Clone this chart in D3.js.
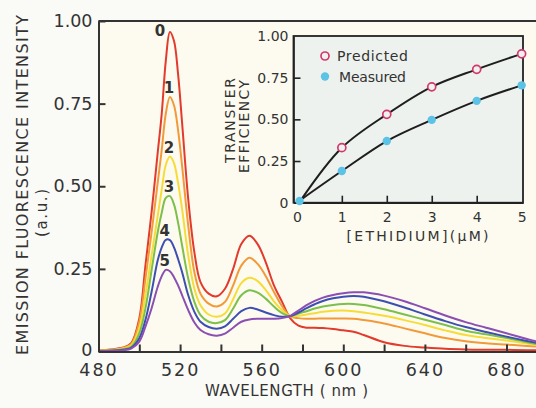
<!DOCTYPE html>
<html><head><meta charset="utf-8">
<script src="https://cdn.jsdelivr.net/npm/d3@7"></script>
<style>
html,body{margin:0;padding:0;background:#fafaf7;}
svg{display:block;}
text{font-family:"DejaVu Sans",sans-serif;fill:#333;}
</style></head><body>
<svg id="chart" width="536" height="408"></svg>
<script>
// ---------- DATA ----------
const wavelengths = [480,486,492,496,500,503,506,509,511,513,515,517,519,521,524,527,530,534,538,542,546,550,554,558,562,566,570,574,578,582,586,590,595,600,605,610,620,630,640,650,660,670,680,690,696];
const curve0 = [0.003,0.006,0.012,0.025,0.10,0.26,0.42,0.60,0.72,0.88,0.967,0.94,0.84,0.69,0.46,0.30,0.21,0.175,0.167,0.19,0.25,0.325,0.35,0.325,0.27,0.20,0.15,0.10,0.078,0.072,0.072,0.071,0.068,0.064,0.06,0.05,0.028,0.017,0.012,0.008,0.006,0.005,0.005,0.004,0.004];
const curve1 = [0.003,0.005,0.011,0.022,0.09,0.22,0.36,0.51,0.61,0.72,0.77,0.745,0.67,0.56,0.38,0.24,0.175,0.145,0.136,0.15,0.2,0.26,0.284,0.265,0.228,0.18,0.137,0.106,0.101,0.099,0.099,0.10,0.10,0.10,0.099,0.095,0.085,0.07,0.055,0.041,0.031,0.025,0.021,0.017,0.015];
const curve2 = [0.002,0.004,0.009,0.018,0.07,0.17,0.29,0.41,0.49,0.565,0.59,0.57,0.51,0.43,0.29,0.19,0.14,0.112,0.105,0.115,0.158,0.207,0.223,0.213,0.186,0.152,0.125,0.107,0.108,0.112,0.116,0.12,0.123,0.124,0.122,0.118,0.108,0.095,0.08,0.064,0.05,0.041,0.033,0.024,0.019];
const curve3 = [0.002,0.003,0.007,0.014,0.055,0.13,0.245,0.36,0.42,0.465,0.47,0.445,0.39,0.32,0.22,0.15,0.11,0.09,0.086,0.095,0.13,0.17,0.185,0.178,0.16,0.136,0.116,0.107,0.115,0.122,0.13,0.136,0.141,0.144,0.144,0.141,0.128,0.112,0.096,0.08,0.063,0.052,0.041,0.028,0.021];
const curve4 = [0.001,0.002,0.005,0.011,0.04,0.095,0.18,0.275,0.315,0.338,0.337,0.315,0.28,0.24,0.17,0.12,0.09,0.074,0.069,0.076,0.099,0.122,0.132,0.127,0.118,0.11,0.105,0.107,0.118,0.131,0.143,0.153,0.161,0.166,0.168,0.166,0.152,0.133,0.112,0.092,0.074,0.059,0.045,0.032,0.025];
const curve5 = [0.001,0.002,0.004,0.009,0.03,0.075,0.13,0.195,0.228,0.247,0.243,0.225,0.20,0.17,0.125,0.088,0.065,0.052,0.048,0.054,0.072,0.09,0.097,0.099,0.099,0.099,0.101,0.108,0.124,0.14,0.153,0.163,0.171,0.176,0.179,0.179,0.169,0.152,0.131,0.109,0.089,0.072,0.055,0.038,0.028];
const curveLabels = ["0","1","2","3","4","5"];
const xTickValues = [480,500,520,540,560,580,600,620,640,660,680];
const yTickValues = [0,0.25,0.5,0.75,1];

// inset data
const predictedConc = [1,2,3,4,5];
const predicted = [0.33,0.53,0.695,0.80,0.893];
const measuredConc = [0.06,1,2,3,4,5];
const measured = [0.01,0.19,0.37,0.497,0.611,0.704];
const fitStart = [0.1,0.02];
const insetXTicks = [0,1,2,3,4,5];
const insetYTicks = [0,0.25,0.5,0.75,1];

// ---------- STYLE ----------
const colors = ["#e23a2c","#f29a3a","#f6dc38","#7cbf4b","#3d4fb2","#8b4fb3"];
const W = 536, H = 408;
const svg = d3.select("#chart");
const fmt = d => d === 0 ? "0" : d3.format(".2f")(d);

svg.append("rect").attr("width",W).attr("height",H).attr("fill","#fafaf7");

const x = d3.scaleLinear().domain([480,700]).range([98.5, 98.5 + 220*2.04]);
const y = d3.scaleLinear().domain([0,1]).range([351.5,21]);

// plot background
svg.append("rect").attr("x",x(480)).attr("y",y(1)).attr("width",W - x(480)).attr("height",y(0)-y(1)).attr("fill","#fdfbef");

svg.append("clipPath").attr("id","clip").append("rect")
  .attr("x",x(480)).attr("y",y(1)).attr("width",W - x(480)).attr("height",y(0)-y(1));

const line = d3.line().x(d => x(d[0])).y(d => y(d[1])).curve(d3.curveCatmullRom.alpha(0.5));
const curves = [curve0,curve1,curve2,curve3,curve4,curve5];
const g = svg.append("g").attr("clip-path","url(#clip)");
curves.forEach((c,i) => {
  g.append("path").datum(wavelengths.map((w,j)=>[w,c[j]]))
    .attr("d",line).attr("fill","none").attr("stroke",colors[i]).attr("stroke-width",2);
});

// curve labels near peaks
curves.forEach((c,i) => {
  const k = d3.maxIndex(c);
  const px = x(wavelengths[k]), py = y(c[k]);
  svg.append("text")
    .attr("x", i === 0 ? px - 10 : px - 1)
    .attr("y", i === 0 ? py + 4 : py - 4)
    .attr("text-anchor","middle").attr("font-size",15).attr("font-weight","bold").attr("fill","#3a3a3a")
    .text(curveLabels[i]);
});

// axes
const yAxis = svg.append("g").attr("transform",`translate(${x(480)},0)`)
  .call(d3.axisLeft(y).tickValues(yTickValues).tickFormat(fmt).tickSizeInner(-7).tickSizeOuter(0).tickPadding(6));
yAxis.selectAll("text").attr("font-size",17.5).attr("font-family","DejaVu Sans").attr("fill","#333");
yAxis.selectAll(".tick").filter(d => d === 0).select("text").attr("dy","0.2em");
const xAxis = svg.append("g").attr("transform",`translate(0,${y(0)})`)
  .call(d3.axisBottom(x).tickValues(xTickValues).tickFormat(d => d % 40 === 0 ? d : "").tickSizeInner(-7).tickSizeOuter(0).tickPadding(12));
xAxis.selectAll("text").attr("font-size",17.5).attr("font-family","DejaVu Sans").attr("fill","#333").attr("letter-spacing","2px");
[yAxis,xAxis].forEach(a => {
  a.selectAll("path,line").attr("stroke","#333").attr("stroke-width",2);
});
// top border
svg.append("line").attr("x1",x(480)).attr("x2",W).attr("y1",y(1)).attr("y2",y(1)).attr("stroke","#333").attr("stroke-width",2);

// axis titles
svg.append("text").attr("x",286.5).attr("y",396).attr("text-anchor","middle").attr("font-size",15)
  .attr("textLength",163).attr("lengthAdjust","spacing").text("WAVELENGTH ( nm )");
svg.append("text").attr("transform","translate(28,185) rotate(-90)").attr("text-anchor","middle").attr("font-size",16)
  .attr("textLength",340).attr("lengthAdjust","spacing").text("EMISSION FLUORESCENCE INTENSITY");
svg.append("text").attr("transform","translate(47,213) rotate(-90)").attr("text-anchor","middle").attr("font-size",15)
  .attr("textLength",48).attr("lengthAdjust","spacing").text("(a.u.)");

// ---------- INSET ----------
const xi = d3.scaleLinear().domain([-0.075,5.03]).range([293.5,523]);
const yi = d3.scaleLinear().domain([0,1]).range([202.7,36]);
svg.append("rect").attr("x",xi.range()[0]).attr("y",yi(1)).attr("width",xi.range()[1]-xi.range()[0]).attr("height",yi(0)-yi(1))
  .attr("fill","#eef2ef");

const iy = svg.append("g").attr("transform",`translate(${xi.range()[0]},0)`)
  .call(d3.axisLeft(yi).tickValues(insetYTicks).tickFormat(fmt).tickSizeInner(-7).tickSizeOuter(0).tickPadding(5));
iy.selectAll("text").attr("font-size",14).attr("font-family","DejaVu Sans").attr("fill","#333");
const ix = svg.append("g").attr("transform",`translate(0,${yi(0)})`)
  .call(d3.axisBottom(xi).tickValues(insetXTicks).tickFormat(d3.format("d")).tickSizeInner(-7).tickSizeOuter(0).tickPadding(9));
ix.selectAll("text").attr("font-size",14).attr("font-family","DejaVu Sans").attr("fill","#333");
ix.selectAll(".tick").filter(d => d === 0 || d === 5).select("line").remove();
iy.selectAll(".tick").filter(d => d === 0 || d === 1).select("line").remove();
[iy,ix].forEach(a => a.selectAll("path,line").attr("stroke","#222").attr("stroke-width",1.6));

// frame
svg.append("rect").attr("x",xi.range()[0]).attr("y",yi(1)).attr("width",xi.range()[1]-xi.range()[0]).attr("height",yi(0)-yi(1))
  .attr("fill","none").attr("stroke","#222").attr("stroke-width",1.8);

// fit lines
const iline = d3.line().x(d => xi(d[0])).y(d => yi(d[1])).curve(d3.curveCatmullRom.alpha(0.5));
svg.append("path").datum([fitStart].concat(predictedConc.map((c,i)=>[c,predicted[i]])))
  .attr("d",iline).attr("fill","none").attr("stroke","#1e1e1e").attr("stroke-width",2);
svg.append("path").datum([fitStart].concat(measuredConc.slice(1).map((c,i)=>[c,measured[i+1]])))
  .attr("d",iline).attr("fill","none").attr("stroke","#1e1e1e").attr("stroke-width",2);

// markers
svg.selectAll(".pred").data(predictedConc).enter().append("circle")
  .attr("cx",d => xi(d)).attr("cy",(d,i) => yi(predicted[i])).attr("r",4)
  .attr("fill","#eef2ef").attr("stroke","#d4376e").attr("stroke-width",1.7);
svg.selectAll(".meas").data(measuredConc).enter().append("circle")
  .attr("cx",d => xi(d)).attr("cy",(d,i) => yi(measured[i])).attr("r",4.2)
  .attr("fill","#5cc3e6");

// legend
svg.append("circle").attr("cx",325).attr("cy",56).attr("r",4).attr("fill","#eef2ef").attr("stroke","#d4376e").attr("stroke-width",1.7);
svg.append("text").attr("x",337).attr("y",61).attr("font-size",14).attr("textLength",71).attr("lengthAdjust","spacing").text("Predicted");
svg.append("circle").attr("cx",325).attr("cy",76.5).attr("r",4.2).attr("fill","#5cc3e6");
svg.append("text").attr("x",339).attr("y",81.5).attr("font-size",14).attr("textLength",67).attr("lengthAdjust","spacing").text("Measured");

// inset titles
svg.append("text").attr("x",417.5).attr("y",241).attr("text-anchor","middle").attr("font-size",14)
  .attr("textLength",142).attr("lengthAdjust","spacing").text("[ETHIDIUM](μM)");
svg.append("text").attr("transform","translate(235,120.5) rotate(-90)").attr("text-anchor","middle").attr("font-size",14)
  .attr("textLength",85).attr("lengthAdjust","spacing").text("TRANSFER");
svg.append("text").attr("transform","translate(248.5,126.5) rotate(-90)").attr("text-anchor","middle").attr("font-size",14)
  .attr("textLength",93).attr("lengthAdjust","spacing").text("EFFICIENCY");
</script>
</body></html>
